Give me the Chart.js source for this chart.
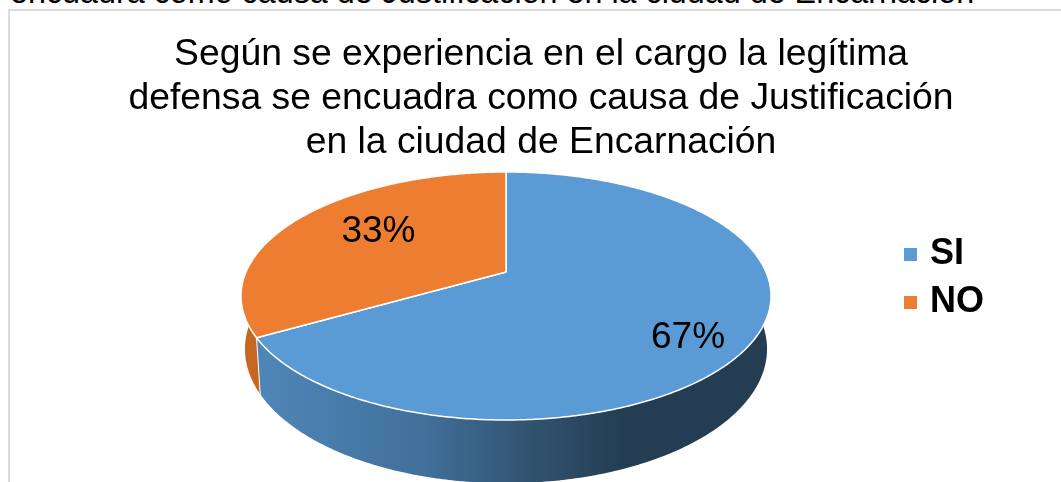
<!DOCTYPE html>
<html>
<head>
<meta charset="utf-8">
<style>
html, body { margin: 0; padding: 0; background: #fff; overflow: hidden; }
#page { position: relative; width: 1061px; height: 482px; overflow: hidden; }
#frame { position: absolute; left: 8px; top: 9px; right: -4px; bottom: -4px; border: 2px solid #dcdcdc; }
#prev { position: absolute; left: 0; top: 0; width: 1061px; height: 9px; overflow: hidden; }
#prev span { position: absolute; left: 10px; top: -28px; font: 32.3px/40px "Liberation Sans", Arial, sans-serif; color: #000; white-space: nowrap; }
canvas { position: absolute; left: 0; top: 0; }
</style>
</head>
<body>
<div id="page">
  <div id="prev"><span>encuadra como causa de Justificación en la ciudad de Encarnación</span></div>
  <div id="frame"></div>
  <canvas id="chart" width="1061" height="482"></canvas>
</div>
<script src="https://cdn.jsdelivr.net/npm/chart.js@4/dist/chart.umd.min.js"></script>
<script>
const categories = ['SI', 'NO'];
const percentages = [66.7, 33.3];
const sliceColors = ['#5b9bd5', '#ed7d31'];
const titleLines = [
    'Según se experiencia en el cargo la legítima',
    'defensa se encuadra como causa de Justificación',
    'en la ciudad de Encarnación'
];

// perspective of the tilted disc
const view = { cx: 506, cy: 272, rx: 260, ry: 119.35, k: 0.1935, depth: 51, shrink: 0.985 };

function project(theta, r) {
    const u = Math.sin(theta) * r;
    const v = Math.cos(theta) * r;
    const w = 1 + view.k * v;
    return { x: view.cx + view.rx * u / w, y: view.cy - view.ry * v / w, w: w };
}

function lower(p) {
    return { x: view.cx + (p.x - view.cx) * view.shrink, y: p.y + view.depth / p.w };
}

function rimPoints(a0, a1) {
    const pts = [];
    const n = Math.max(2, Math.ceil((a1 - a0) / 0.01));
    for (let i = 0; i <= n; i++) {
        pts.push(project(a0 + (a1 - a0) * i / n + Math.PI / 2, 1));
    }
    return pts;
}

// legend marker: 13px square pushed to the right of a wider transparent tile
function legendMark(color) {
    const tile = document.createElement('canvas');
    tile.width = 23;
    tile.height = 13;
    const c = tile.getContext('2d');
    c.fillStyle = color;
    c.fillRect(10, 0, 13, 13);
    return tile;
}

const disc3d = {
    id: 'disc3d',
    beforeDatasetsDraw(chart) {
        const ctx = chart.ctx;
        const arcs = chart.getDatasetMeta(0).data;
        ctx.save();

        // side walls first, the top covers what is behind
        const wallFill = ctx.createLinearGradient(258, 0, 625, 0);
        wallFill.addColorStop(0, '#4f86b8');
        wallFill.addColorStop(0.45, '#41709a');
        wallFill.addColorStop(0.75, '#31526f');
        wallFill.addColorStop(1, '#243d52');
        const walls = [wallFill, '#c6671f'];

        [1, 0].forEach(i => {
            const pts = rimPoints(arcs[i].startAngle, arcs[i].endAngle);
            ctx.beginPath();
            pts.forEach((p, j) => j ? ctx.lineTo(p.x, p.y) : ctx.moveTo(p.x, p.y));
            pts.slice().reverse().forEach(p => {
                const q = lower(p);
                ctx.lineTo(q.x, q.y);
            });
            ctx.closePath();
            ctx.fillStyle = walls[i];
            ctx.fill();
        });

        // seam between the two walls
        const seam = project(arcs[1].startAngle + Math.PI / 2, 1);
        const seamLow = lower(seam);
        ctx.beginPath();
        ctx.moveTo(seam.x, seam.y);
        ctx.lineTo(seamLow.x, seamLow.y);
        ctx.strokeStyle = '#ffffff';
        ctx.lineWidth = 1;
        ctx.stroke();

        // top faces
        arcs.forEach(arc => {
            ctx.beginPath();
            ctx.moveTo(view.cx, view.cy);
            rimPoints(arc.startAngle, arc.endAngle).forEach(p => ctx.lineTo(p.x, p.y));
            ctx.closePath();
            ctx.fillStyle = arc.options.backgroundColor;
            ctx.fill();
            ctx.strokeStyle = '#ffffff';
            ctx.lineWidth = 1.5;
            ctx.lineJoin = 'round';
            ctx.stroke();
        });

        // percentage labels
        const labelRadius = [0.75, 0.6];
        const labelNudge = [17, -6];
        ctx.fillStyle = '#000';
        ctx.font = '37px "Liberation Sans", Arial, sans-serif';
        ctx.textAlign = 'center';
        ctx.textBaseline = 'middle';
        arcs.forEach((arc, i) => {
            const mid = (arc.startAngle + arc.endAngle) / 2 + Math.PI / 2;
            const p = project(mid, labelRadius[i]);
            ctx.fillText(Math.round(percentages[i]) + '%', p.x, p.y + labelNudge[i]);
        });

        ctx.restore();
        return false;
    }
};

new Chart(document.getElementById('chart'), {
    type: 'pie',
    data: {
        labels: categories,
        datasets: [{
            data: percentages,
            backgroundColor: sliceColors
        }]
    },
    options: {
        responsive: false,
        animation: false,
        // negative bottom moves the centred legend down to where it sits in the picture
        layout: { padding: { left: 88, right: 67, top: 0, bottom: -74 } },
        plugins: {
            tooltip: { enabled: false },
            title: {
                display: true,
                text: titleLines,
                color: '#000',
                font: { family: '"Liberation Sans", Arial, sans-serif', size: 37.3, weight: 'normal', lineHeight: 1.18 },
                padding: { top: 33, bottom: 0 }
            },
            legend: {
                position: 'right',
                labels: {
                    usePointStyle: true,
                    pointStyleWidth: 13,
                    boxHeight: 13,
                    color: '#000',
                    padding: 12,
                    font: { family: '"Liberation Sans", Arial, sans-serif', size: 36, weight: 'bold' },
                    generateLabels(chart) {
                        return Chart.overrides.pie.plugins.legend.labels.generateLabels(chart).map((item, i) => {
                            item.pointStyle = legendMark(sliceColors[i]);
                            return item;
                        });
                    }
                }
            }
        }
    },
    plugins: [disc3d]
});
</script>
</body>
</html>
